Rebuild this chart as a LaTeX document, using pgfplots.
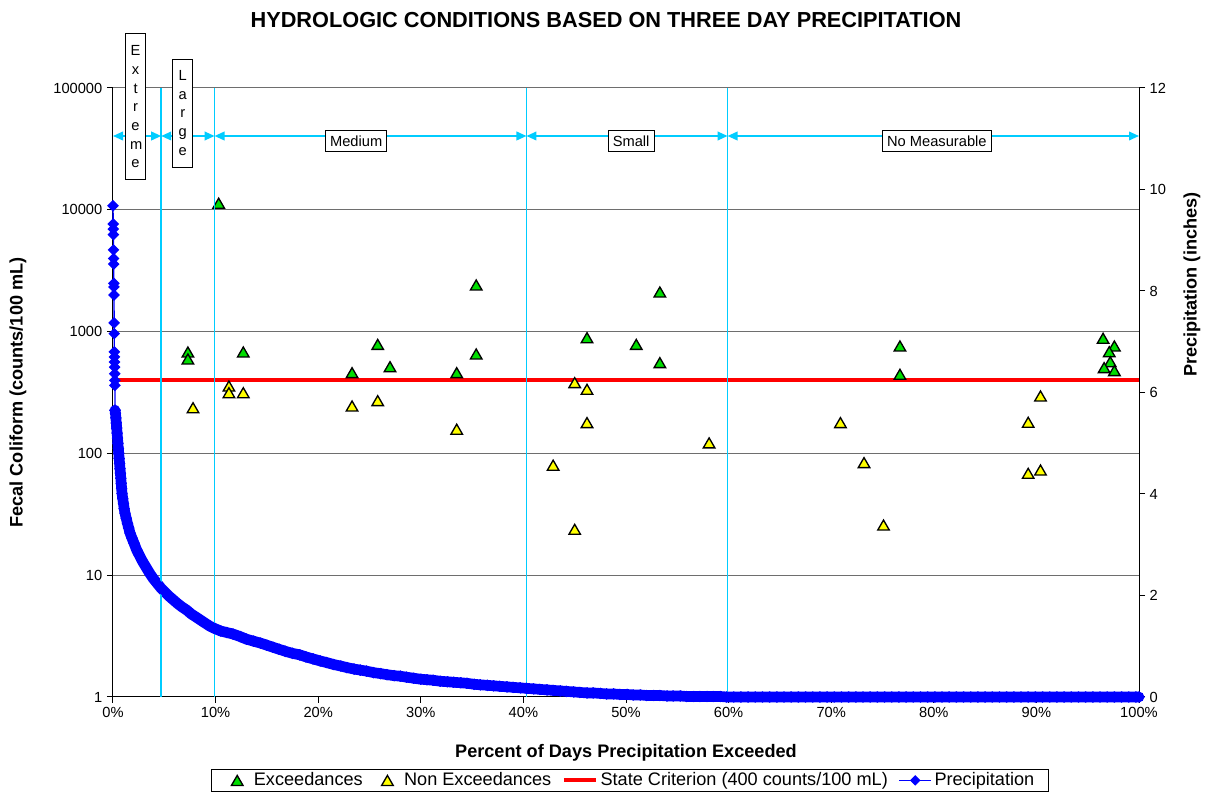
\documentclass[border=0pt]{standalone}
\usepackage{fontspec}
\setmainfont{Liberation Sans}
\usepackage{pgfplots}
\pgfplotsset{compat=1.18}
\usetikzlibrary{arrows.meta}
\definecolor{exgreen}{RGB}{0,221,0}
\definecolor{exyellow}{RGB}{255,255,0}
\definecolor{skyline}{RGB}{0,204,255}
\definecolor{gridgray}{RGB}{110,110,110}

\begin{document}
\begin{tikzpicture}
\useasboundingbox (-84.75pt,-86.25pt) rectangle (821.25pt,522.75pt);
% ---------------- primary axis (log) ----------------
\begin{axis}[
  at={(0pt,0pt)}, anchor=south west,
  scale only axis, width=769.5pt, height=456.75pt,
  xmin=0, xmax=100, ymode=log, ymin=1, ymax=100000,
  axis x line*=bottom, axis y line*=left,
  axis line style={black, line width=0.75pt, -},
  tick align=outside, major tick length=4.5pt,
  tick style={black, line width=0.75pt},
  xtick={0,10,...,100},
  xticklabels={0\%,10\%,20\%,30\%,40\%,50\%,60\%,70\%,80\%,90\%,100\%},
  ytick={1,10,100,1000,10000,100000},
  yticklabels={1,10,100,1000,10000,100000},
  yminorticks=false,
  ymajorgrids, grid style={gridgray, line width=0.75pt},
  tick label style={font=\fontsize{11}{13}\selectfont},
  xlabel={Percent of Days Precipitation Exceeded},
  ylabel={Fecal Coliform (counts/100 mL)},
  label style={font=\fontsize{13.6}{16}\selectfont\bfseries},
  xlabel style={at={(axis description cs:0.5,-0.092)}, anchor=center},
  ylabel style={at={(axis description cs:-0.0926,0.5)}, anchor=center},
  legend columns=-1,
  legend style={at={(axis description cs:0.504,-0.137)}, anchor=center,
    draw=black, line width=0.75pt, fill=white,
    font=\fontsize{13.6}{15.5}\selectfont,
    /tikz/every even column/.append style={column sep=6pt},
    inner xsep=9pt, inner ysep=0.5pt},
  legend cell align=left,
  clip=false,
]
% Exceedances
\addplot[only marks, mark=triangle*, mark size=5pt,
  mark options={fill=exgreen, draw=black, line width=1pt, yshift=-1.25pt},
  legend image code/.code={\path[draw=none] (0pt,0pt) -- (21pt,0pt);
    \filldraw[draw=black, fill=exgreen, line width=1pt] (10.5pt,3.75pt) -- (14.83pt,-3.75pt) -- (6.17pt,-3.75pt) -- cycle;}]
  coordinates {
  (10.3,11330) (7.3,680) (7.3,596) (12.7,680) (23.3,460) (25.8,785)
  (27.0,515) (33.5,460) (35.4,655) (35.4,2414) (46.2,891) (51.0,785)
  (53.3,556) (53.3,2114) (76.7,762) (76.7,446) (96.5,881) (97.6,762)
  (97.1,684) (97.2,566) (96.6,506) (97.6,478)
  };
\addlegendentry{Exceedances}
% Non exceedances
\addplot[only marks, mark=triangle*, mark size=5pt,
  mark options={fill=exyellow, draw=black, line width=1pt, yshift=-1.25pt},
  legend image code/.code={\path[draw=none] (0pt,0pt) -- (21pt,0pt);
    \filldraw[draw=black, fill=exyellow, line width=1pt] (10.5pt,3.75pt) -- (14.83pt,-3.75pt) -- (6.17pt,-3.75pt) -- cycle;}]
  coordinates {
  (7.8,237) (11.3,357) (11.3,315) (12.7,315) (23.3,245) (25.8,271)
  (33.5,158) (45.0,381) (45.0,23.8) (46.2,336) (46.2,179) (58.1,122)
  (42.9,80) (70.9,179) (73.2,84) (75.1,25.8) (89.2,180) (89.2,68.6)
  (90.4,296) (90.4,73)
  };
\addlegendentry{Non Exceedances}
% State criterion
\addplot[red, line width=3pt, no marks,
  legend image code/.code={\draw[red, line width=3pt] (0pt,0pt) -- (24pt,0pt);}]
  coordinates {(0,400) (100,400)};
\addlegendentry{State Criterion (400 counts/100 mL)}
\addlegendimage{legend image code/.code={
  \draw[blue, line width=1pt] (0pt,0pt) -- (24pt,0pt);
  \fill[blue] (12pt,3.4pt) -- (15.4pt,0pt) -- (12pt,-3.4pt) -- (8.6pt,0pt) -- cycle;}}
\addlegendentry{Precipitation}
\node[font=\fontsize{16.3}{19}\selectfont\bfseries, anchor=center] at (rel axis cs:0.4805,1.1117)
  {HYDROLOGIC CONDITIONS BASED ON THREE DAY PRECIPITATION};
\end{axis}
% ---------------- secondary axis (precipitation) ----------------
\begin{axis}[
  at={(0pt,0pt)}, anchor=south west,
  scale only axis, width=769.5pt, height=456.75pt,
  xmin=0, xmax=100, ymin=0, ymax=12,
  axis x line=none, axis y line*=right,
  axis line style={black, line width=0.75pt, -},
  tick align=outside, major tick length=4.5pt,
  tick style={black, line width=0.75pt},
  ytick={0,2,4,6,8,10,12},
  yticklabels={0,2,4,6,8,10,12},
  tick label style={font=\fontsize{11}{13}\selectfont},
  ylabel={Precipitation (inches)},
  label style={font=\fontsize{13.6}{16}\selectfont\bfseries},
  ylabel style={at={(axis description cs:1.0517,0.677)}, anchor=center},
  clip=false,
]
% largest events (sparse, at the top of the ranking)
\addplot[blue, line width=1pt, mark=square*, mark size=2.6pt,
  mark options={rotate=45, fill=blue, draw=blue}]
  coordinates {
  (0.00,9.68) (0.02,9.32) (0.03,9.22) (0.04,9.11) (0.05,8.81) (0.06,8.64)
  (0.07,8.53) (0.08,8.15) (0.09,8.08) (0.10,7.92) (0.11,7.37) (0.12,7.16)
  (0.13,6.80) (0.14,6.70) (0.15,6.60) (0.16,6.50) (0.17,6.37) (0.18,6.24)
  (0.19,6.14) (0.20,5.65)
  };
% remaining days: markers overlap into a continuous band
\addplot[blue, line width=8pt, line join=round, line cap=round, mark=square*, mark size=2.9pt,
  mark options={rotate=45, fill=blue, draw=blue, line width=0.5pt}]
  coordinates {
  (0.20,5.65) (0.24,5.59) (0.28,5.50) (0.32,5.40) (0.36,5.30)
  (0.40,5.20) (0.44,5.10) (0.48,5.00) (0.52,4.90) (0.56,4.80) (0.60,4.70)
  (0.64,4.60) (0.68,4.50) (0.72,4.41) (0.76,4.31) (0.80,4.21) (0.84,4.11)
  (0.88,4.01) (0.95,3.91) (1.02,3.81) (1.09,3.71) (1.17,3.62) (1.29,3.52)
  (1.41,3.42) (1.53,3.33) (1.66,3.23) (1.85,3.13) (2.05,3.03) (2.30,2.90)
  (2.55,2.80) (2.80,2.70) (3.00,2.63) (3.30,2.53) (3.60,2.43) (3.90,2.34)
  (4.30,2.24) (4.70,2.14) (5.10,2.06) (5.50,1.98) (5.90,1.91) (6.30,1.84)
  (6.75,1.77) (7.20,1.71) (7.60,1.64) (8.05,1.58) (8.50,1.52) (8.95,1.46)
  (9.40,1.40) (9.90,1.35) (10.5,1.30) (11.1,1.27) (11.7,1.24) (12.4,1.19)
  (13.0,1.14) (13.7,1.10) (14.4,1.06) (15.0,1.02) (15.6,0.98) (16.2,0.94)
  (16.8,0.90) (17.5,0.86) (18.2,0.83) (18.8,0.79) (19.5,0.75) (20.2,0.71)
  (20.8,0.68) (21.5,0.64) (22.2,0.61) (22.8,0.58) (23.5,0.55) (24.1,0.53)
  (24.7,0.51) (25.4,0.48) (26.1,0.46) (26.7,0.44) (27.4,0.42) (28.0,0.41)
  (28.6,0.39) (29.3,0.37) (30.0,0.35) (30.6,0.34) (31.2,0.33) (31.9,0.31)
  (32.6,0.30) (33.2,0.29) (33.9,0.28) (34.5,0.27) (35.2,0.25) (35.8,0.24)
  (36.5,0.23) (37.1,0.22) (37.7,0.21) (38.4,0.20) (39.0,0.19) (39.7,0.18)
  (40.3,0.17) (41.0,0.16) (41.6,0.15) (42.3,0.14) (42.9,0.13) (43.6,0.12)
  (44.2,0.11) (44.9,0.10) (45.5,0.09) (46.2,0.08) (46.8,0.08) (47.5,0.07)
  (48.1,0.06) (48.8,0.06) (49.4,0.05) (50.1,0.05) (50.7,0.04) (51.4,0.04)
  (52.0,0.03) (52.7,0.03) (53.3,0.03) (54.0,0.02) (54.6,0.02) (55.3,0.02)
  (55.9,0.01) (56.6,0.01) (57.2,0.01) (57.9,0.01) (58.5,0.01) (59.2,0.01)
  (59.8,0) (60.5,0) (61.2,0) (61.9,0) (62.6,0) (63.3,0) (64.0,0) (64.7,0)
  (65.4,0) (66.1,0) (66.8,0) (67.5,0) (68.2,0) (68.9,0) (69.6,0) (70.3,0)
  (71.0,0) (71.7,0) (72.4,0) (73.1,0) (73.8,0) (74.5,0) (75.2,0) (75.9,0)
  (76.6,0) (77.3,0) (78.0,0) (78.7,0) (79.4,0) (80.1,0) (80.8,0) (81.5,0)
  (82.2,0) (82.9,0) (83.6,0) (84.3,0) (85.0,0) (85.7,0) (86.4,0) (87.1,0)
  (87.8,0) (88.5,0) (89.2,0) (89.9,0) (90.6,0) (91.3,0) (92.0,0) (92.7,0)
  (93.4,0) (94.1,0) (94.8,0) (95.5,0) (96.2,0) (96.9,0) (97.6,0) (98.3,0)
  (99.0,0) (99.7,0) (100,0)
  };
% hydrologic condition boundaries
\foreach \xv in {4.7,9.9,40.3,59.9} {
  \edef\tmp{\noexpand\draw[skyline, line width=1.3pt] (axis cs:\xv,0) -- (axis cs:\xv,12);}
  \tmp
}
\foreach \xa/\xb in {0/4.7,4.7/9.9,9.9/40.3,40.3/59.9,59.9/100} {
  \edef\tmp{\noexpand\draw[skyline, line width=1.3pt, {Triangle[length=7.5pt,width=6.5pt]}-{Triangle[length=7.5pt,width=6.5pt]}] (axis cs:\xa,11.054) -- (axis cs:\xb,11.054);}
  \tmp
}
\node[draw=black, line width=0.75pt, fill=white, font=\fontsize{11}{13}\selectfont, inner xsep=3.5pt, inner ysep=3.5pt] at (axis cs:23.7,10.956) {Medium};
\node[draw=black, line width=0.75pt, fill=white, font=\fontsize{11}{13}\selectfont, inner xsep=3.5pt, inner ysep=3.5pt] at (axis cs:50.5,10.956) {Small};
\node[draw=black, line width=0.75pt, fill=white, font=\fontsize{11}{13}\selectfont, inner xsep=3.5pt, inner ysep=3.5pt] at (axis cs:80.3,10.956) {No Measurable};
\node[draw=black, line width=0.75pt, fill=white, font=\fontsize{11}{14}\selectfont, align=center, text width=8pt, minimum height=109.5pt, inner xsep=3.5pt, inner ysep=2pt] at (axis cs:2.2,11.626) {E\\x\\t\\r\\e\\m\\e};
\node[draw=black, line width=0.75pt, fill=white, font=\fontsize{11}{14}\selectfont, align=center, text width=8pt, minimum height=81pt, inner xsep=3.5pt, inner ysep=2pt] at (axis cs:6.8,11.507) {L\\a\\r\\g\\e};
\end{axis}
\end{tikzpicture}
\end{document}
